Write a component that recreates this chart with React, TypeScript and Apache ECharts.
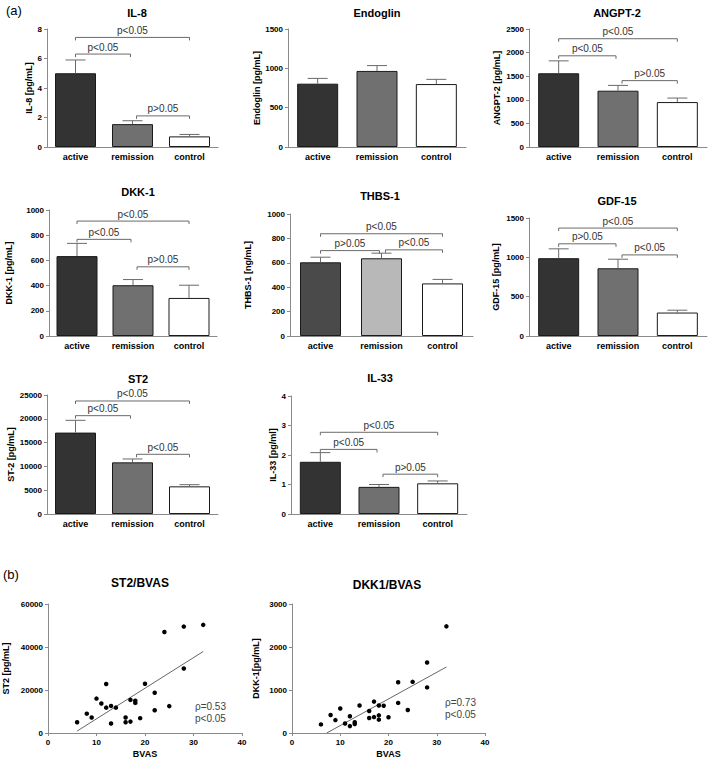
import React, { useEffect, useRef } from 'react';
import * as echarts from 'echarts';

const F = '"Liberation Sans", Arial, Helvetica, sans-serif';

const categories = ['active', 'remission', 'control'];

type Bracket = [number, number, number, string];

// IL-8
const il8Mean = [5.0, 1.55, 0.72];
const il8Tip = [5.9, 1.78, 0.85];
const il8Brackets: Bracket[] = [[0, 2, 7.43, 'p<0.05'], [0, 1, 6.3, 'p<0.05'], [1, 2, 2.11, 'p>0.05']];
// Endoglin
const endMean = [805, 967, 800];
const endTip = [872, 1035, 860];
const endBrackets: Bracket[] = [];
// ANGPT-2
const angMean = [1562, 1193, 952];
const angTip = [1825, 1305, 1037];
const angBrackets: Bracket[] = [[0, 2, 2294, 'p<0.05'], [0, 1, 1932, 'p<0.05'], [1, 2, 1406, 'p>0.05']];
// DKK-1
const dkkMean = [634, 403, 302];
const dkkTip = [735, 448, 403];
const dkkBrackets: Bracket[] = [[0, 2, 912, 'p<0.05'], [0, 1, 767, 'p<0.05'], [1, 2, 549, 'p>0.05']];
// THBS-1
const thbMean = [604, 637, 431];
const thbTip = [646, 679, 464];
const thbBrackets: Bracket[] = [[0, 2, 838, 'p<0.05'], [0, 1, 700, 'p>0.05'], [1, 2, 706, 'p<0.05']];
// GDF-15
const gdfMean = [989, 861, 298];
const gdfTip = [1108, 976, 328];
const gdfBrackets: Bracket[] = [[0, 2, 1372, 'p<0.05'], [0, 1, 1172, 'p>0.05'], [1, 2, 1031, 'p<0.05']];
// ST2
const st2Mean = [17100, 10850, 5810];
const st2Tip = [19680, 11560, 6160];
const st2Brackets: Bracket[] = [[0, 2, 23740, 'p<0.05'], [0, 1, 20660, 'p<0.05'], [1, 2, 12540, 'p<0.05']];
// IL-33
const il33Mean = [1.77, 0.92, 1.04];
const il33Tip = [2.08, 1.0, 1.12];
const il33Brackets: Bracket[] = [[0, 2, 2.77, 'p<0.05'], [0, 1, 2.19, 'p<0.05'], [1, 2, 1.35, 'p>0.05']];

// Scatter (b)
const st2Bvas: number[][] = [
  [6, 5000], [8, 9000], [9, 7200], [10, 16000], [11, 13700], [12, 22800], [12, 11800],
  [13, 12600], [13, 4400], [14, 11800], [16, 7200], [16, 5000], [17, 15400], [17, 5300],
  [18, 15000], [18, 14000], [19, 6900], [20, 22900], [22, 18700], [22, 10600], [24, 47000],
  [25, 12500], [28, 49500], [28, 30000], [32, 50300],
];
const st2Fit: number[][] = [[6, 900], [32, 37900]];
const dkkBvas: number[][] = [
  [6, 200], [8, 420], [9, 300], [10, 570], [11, 220], [12, 390], [12, 160], [13, 250],
  [13, 210], [14, 640], [16, 510], [16, 350], [17, 730], [17, 370], [18, 640], [18, 410],
  [18, 310], [19, 635], [20, 365], [22, 1180], [22, 700], [24, 535], [25, 1190], [28, 1640],
  [28, 1060], [32, 2480],
];
const dkkFit: number[][] = [[7.2, 0], [32, 1535]];
const st2Stats = ['ρ=0.53', 'p<0.05'];
const dkkStats = ['ρ=0.73', 'p<0.05'];

const darkFills = ['#333333', '#707070', '#ffffff'];
const thbFills = ['#4a4a4a', '#b8b8b8', '#ffffff'];

const barPanels = [
  { title: 'IL-8', yName: 'IL-8 [pg/mL]', mean: il8Mean, tip: il8Tip, max: 8, interval: 2, brackets: il8Brackets, fills: darkFills },
  { title: 'Endoglin', yName: 'Endoglin [pg/mL]', mean: endMean, tip: endTip, max: 1500, interval: 500, brackets: endBrackets, fills: darkFills },
  { title: 'ANGPT-2', yName: 'ANGPT-2 [pg/mL]', mean: angMean, tip: angTip, max: 2500, interval: 500, brackets: angBrackets, fills: darkFills },
  { title: 'DKK-1', yName: 'DKK-1 [pg/mL]', mean: dkkMean, tip: dkkTip, max: 1000, interval: 200, brackets: dkkBrackets, fills: darkFills },
  { title: 'THBS-1', yName: 'THBS-1 [ng/mL]', mean: thbMean, tip: thbTip, max: 1000, interval: 200, brackets: thbBrackets, fills: thbFills },
  { title: 'GDF-15', yName: 'GDF-15 [pg/mL]', mean: gdfMean, tip: gdfTip, max: 1500, interval: 500, brackets: gdfBrackets, fills: darkFills },
  { title: 'ST2', yName: 'ST-2 [pg/mL]', mean: st2Mean, tip: st2Tip, max: 25000, interval: 5000, brackets: st2Brackets, fills: darkFills },
  { title: 'IL-33', yName: 'IL-33 [pg/ml]', mean: il33Mean, tip: il33Tip, max: 4, interval: 1, brackets: il33Brackets, fills: darkFills },
];

// layout: grid left, top, width, height, y-name gap, title x, title y
const barLayout = [
  [47, 29, 171, 118, 14, 137, 13],
  [288, 29, 178, 118, 27, 377, 13],
  [529, 29, 178, 118, 28, 617, 13],
  [49, 210, 168, 126, 36, 138, 192],
  [290, 214, 183, 122, 38, 380, 196],
  [529, 218, 178, 118, 29, 617, 201],
  [47, 395, 171, 119, 31, 138, 379],
  [291, 396, 176, 118, 14, 380, 378],
];

const scatterPanels = [
  { title: 'ST2/BVAS', yName: 'ST2 [pg/mL]', pts: st2Bvas, fit: st2Fit, ymax: 60000, yint: 20000, stats: st2Stats },
  { title: 'DKK1/BVAS', yName: 'DKK-1[pg/mL]', pts: dkkBvas, fit: dkkFit, ymax: 3000, yint: 1000, stats: dkkStats },
];
const scatterLayout = [
  [48, 604, 194, 129, 38, 140, 583, 195, 706],
  [292, 604, 193, 129, 32, 387, 585, 445, 702],
];

const AXIS = '#8a8a8a';
const TXT = '#000000';

export default function App() {
  const ref = useRef<HTMLDivElement>(null);
  useEffect(() => {
    if (!ref.current) return;
    const chart = echarts.init(ref.current, undefined, { renderer: 'svg' });
    const grid: any[] = [];
    const xAxis: any[] = [];
    const yAxis: any[] = [];
    const series: any[] = [];
    const graphic: any[] = [];

    graphic.push({ type: 'text', left: 6, top: 4, style: { text: '(a)', font: `13px ${F}`, fill: TXT } });
    graphic.push({ type: 'text', left: 3, top: 568, style: { text: '(b)', font: `13px ${F}`, fill: TXT } });

    barPanels.forEach((p, k) => {
      const [l, t, w, h, gap, tx, ty] = barLayout[k];
      grid.push({ left: l, top: t, width: w, height: h });
      xAxis.push({
        type: 'category', gridIndex: k, data: categories,
        axisLine: { lineStyle: { color: AXIS, width: 1 } },
        axisTick: { show: false },
        axisLabel: { color: TXT, fontFamily: F, fontWeight: 'bold', fontSize: 9, margin: 5 },
      });
      yAxis.push({
        type: 'value', gridIndex: k, min: 0, max: p.max, interval: p.interval,
        name: p.yName, nameLocation: 'middle', nameRotate: 90, nameGap: gap,
        nameTextStyle: { color: TXT, fontFamily: F, fontWeight: 'bold', fontSize: 9 },
        axisLine: { show: true, lineStyle: { color: AXIS, width: 1 } },
        axisTick: { show: true, length: 3, lineStyle: { color: AXIS } },
        splitLine: { show: false },
        axisLabel: { color: TXT, fontFamily: F, fontWeight: 'bold', fontSize: 8, margin: 5, formatter: (v: number) => String(v) },
      });
      graphic.push({
        type: 'text', x: tx, y: ty,
        style: { text: p.title, font: `bold 11px ${F}`, fill: TXT, textAlign: 'center', textVerticalAlign: 'middle' },
      });
      series.push({
        type: 'bar', xAxisIndex: k, yAxisIndex: k, barWidth: 41,
        data: p.mean.map((v, i) => ({ value: v, itemStyle: { color: p.fills[i], borderColor: '#1a1a1a', borderWidth: 1 } })),
        z: 2,
      });
      series.push({
        type: 'custom', xAxisIndex: k, yAxisIndex: k, clip: false, z: 3,
        data: p.mean.map((v, i) => [i, v, p.tip[i]]),
        encode: { x: 0, y: [1, 2] },
        renderItem: (params: any, api: any) => {
          const i = api.value(0);
          const a = api.coord([i, api.value(1)]);
          const b = api.coord([i, api.value(2)]);
          const st = { stroke: '#6a6a6a', lineWidth: 1 };
          return {
            type: 'group',
            children: [
              { type: 'line', shape: { x1: a[0], y1: a[1], x2: b[0], y2: b[1] }, style: st },
              { type: 'line', shape: { x1: b[0] - 10, y1: b[1], x2: b[0] + 10, y2: b[1] }, style: st },
            ],
          };
        },
      });
      if (p.brackets.length) {
        series.push({
          type: 'custom', xAxisIndex: k, yAxisIndex: k, clip: false, z: 4,
          data: p.brackets.map((b) => [b[0], b[1], b[2]]),
          encode: { x: [0, 1], y: 2 },
          renderItem: (params: any, api: any) => {
            const from = api.value(0);
            const to = api.value(1);
            const yv = api.value(2);
            const a = api.coord([from, yv]);
            const b = api.coord([to, yv]);
            let x1 = a[0];
            let x2 = b[0];
            if (to - from === 1) {
              if (from === 1) x1 += 4;
              else x2 -= 2;
            }
            const y = a[1];
            const label = p.brackets[params.dataIndex][3];
            return {
              type: 'group',
              children: [
                {
                  type: 'polyline',
                  shape: { points: [[x1, y + 3], [x1, y], [x2, y], [x2, y + 3]] },
                  style: { stroke: '#6a6a6a', lineWidth: 1, fill: 'none' },
                },
                {
                  type: 'text', x: (x1 + x2) / 2, y: y - 2,
                  style: { text: label, font: `10px ${F}`, fill: '#333333', textAlign: 'center', textVerticalAlign: 'bottom' },
                },
              ],
            };
          },
        });
      }
    });

    scatterPanels.forEach((p, j) => {
      const k = barPanels.length + j;
      const [l, t, w, h, gap, tx, ty, sx, sy] = scatterLayout[j];
      grid.push({ left: l, top: t, width: w, height: h });
      xAxis.push({
        type: 'value', gridIndex: k, min: 0, max: 40, interval: 10,
        name: 'BVAS', nameLocation: 'middle', nameGap: 16,
        nameTextStyle: { color: TXT, fontFamily: F, fontWeight: 'bold', fontSize: 9 },
        axisLine: { show: true, lineStyle: { color: AXIS } },
        axisTick: { show: true, length: 3, lineStyle: { color: AXIS } },
        splitLine: { show: false },
        axisLabel: { color: TXT, fontFamily: F, fontWeight: 'bold', fontSize: 8, margin: 5 },
      });
      yAxis.push({
        type: 'value', gridIndex: k, min: 0, max: p.ymax, interval: p.yint,
        name: p.yName, nameLocation: 'middle', nameRotate: 90, nameGap: gap,
        nameTextStyle: { color: TXT, fontFamily: F, fontWeight: 'bold', fontSize: 9 },
        axisLine: { show: true, lineStyle: { color: AXIS } },
        axisTick: { show: true, length: 3, lineStyle: { color: AXIS } },
        splitLine: { show: false },
        axisLabel: { color: TXT, fontFamily: F, fontWeight: 'bold', fontSize: 8, margin: 5, formatter: (v: number) => String(v) },
      });
      graphic.push({
        type: 'text', x: tx, y: ty,
        style: { text: p.title, font: `bold 12px ${F}`, fill: TXT, textAlign: 'center', textVerticalAlign: 'middle' },
      });
      p.stats.forEach((s, r) => {
        graphic.push({
          type: 'text', x: sx, y: sy + r * 12,
          style: { text: s, font: `10px ${F}`, fill: '#444444', textAlign: 'left', textVerticalAlign: 'middle' },
        });
      });
      series.push({
        type: 'line', xAxisIndex: k, yAxisIndex: k, data: p.fit, showSymbol: false, symbol: 'none',
        lineStyle: { color: '#666666', width: 1 }, z: 2,
      });
      series.push({
        type: 'scatter', xAxisIndex: k, yAxisIndex: k, data: p.pts, symbolSize: 4.5,
        itemStyle: { color: '#000000', opacity: 1 }, z: 3,
      });
    });

    chart.setOption({
      animation: false,
      backgroundColor: '#ffffff',
      textStyle: { fontFamily: F },
      grid, xAxis, yAxis, series, graphic,
    });
    return () => chart.dispose();
  }, []);
  return <div ref={ref} style={{ position: 'absolute', left: 0, top: 0, width: 709, height: 764 }} />;
}
